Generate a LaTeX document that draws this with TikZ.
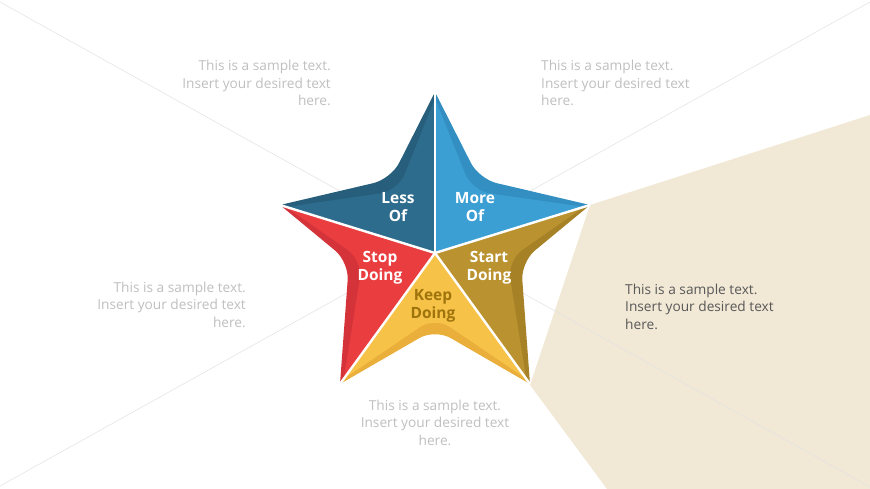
\documentclass[tikz,border=0pt]{standalone}
\usepackage{fontspec}
\setmainfont{Open Sans}
\definecolor{beam}{HTML}{F1E8D6}
\definecolor{guideline}{HTML}{E4E4E4}
\definecolor{greytext}{HTML}{BFBFBF}
\definecolor{darktext}{HTML}{595959}
\definecolor{lessface}{HTML}{2D6C8C}
\definecolor{lessband}{HTML}{265E7C}
\definecolor{moreface}{HTML}{3C9FD3}
\definecolor{moreband}{HTML}{338FC2}
\definecolor{startface}{HTML}{BA922F}
\definecolor{startband}{HTML}{A68126}
\definecolor{keepface}{HTML}{F6C247}
\definecolor{keepband}{HTML}{EAAF3A}
\definecolor{keeptext}{HTML}{A0740D}
\definecolor{stopface}{HTML}{EA3D40}
\definecolor{stopband}{HTML}{D43439}
\usetikzlibrary{positioning}
% star outline around (0,0): #1 scales the tips, #2 the inner corners
\newcommand\starpath[2]{%
  (0,{-161*#1}) [rounded corners=18] -- ({44*#2},{-74*#2}) [rounded corners=3]
  -- ({155*#1},{-48*#1}) [rounded corners=18] -- ({86*#2},{9*#2}) [rounded corners=3]
  -- ({95*#1},{131*#1}) [rounded corners=18] -- (0,{76*#2}) [rounded corners=3]
  -- ({-95*#1},{131*#1}) [rounded corners=18] -- ({-86*#2},{9*#2}) [rounded corners=3]
  -- ({-155*#1},{-48*#1}) [rounded corners=18] -- ({-44*#2},{-74*#2}) [rounded corners=3]
  -- cycle}
\tikzset{
  guide/.style={draw=guideline, line width=0.6pt},
  sep/.style={draw=white, line width=2.4pt},
  lbl/.style={font=\bfseries\fontsize{15.5}{18}\selectfont, align=center, text=white, inner sep=0pt},
  sample/.style={font=\fontsize{13.7}{17.5}\selectfont, text=greytext, inner sep=0pt},
}
\begin{document}
\begin{tikzpicture}[x=1pt, y=-1pt]
  \useasboundingbox (0,0) rectangle (870,489);
  % beige beam
  \fill[beam] (590,205) -- (870,115) -- (870,489) -- (607,489) -- (530,385) -- cycle;
  % faint lines from the corners
  \coordinate (hub) at (435,244);
  \foreach \cx/\cy [count=\i] in {0/2, 0/486, 870/2, 870/487} {
    \coordinate (corner\i) at (\cx,\cy);
    \draw[guide] (corner\i) -- (hub);
  }
  % the star: bands, then faces
  \begin{scope}[shift={(435,253)}]
    \coordinate (ctr) at (0,0);
    \begin{scope}
      \clip \starpath{1}{1};
      \foreach \col/\a/\b in {lessband/197.2/270, moreband/270/342.8,
          startband/342.8/414, keepband/54/126, stopband/126/197.2}
        \fill[\col] (ctr) -- (\a:450) -- (\b:450) -- cycle;
    \end{scope}
    \begin{scope}
      \clip \starpath{0.96}{0.84};
      \foreach \col/\a/\b in {lessface/197.2/270, moreface/270/342.8,
          startface/342.8/414, keepface/54/126, stopface/126/197.2}
        \fill[\col] (ctr) -- (\a:450) -- (\b:450) -- cycle;
    \end{scope}
    % white splits to the tips
    \foreach \x/\y [count=\i] in {0/-161, 155/-48, 95/131, -95/131, -155/-48} {
      \coordinate (tip\i) at (\x,\y);
      \draw[sep] (ctr) -- (tip\i);
    }
  \end{scope}
  % labels
  \node[lbl] (lessof) at (398,207) {Less\\Of};
  \node[lbl] (moreof) at (475,207) {More\\Of};
  \node[lbl] (stopdo) at (380,268) {Stop\\Doing};
  \node[lbl] (startdo) at (489,268) {Start\\Doing};
  \node[lbl, text=keeptext] (keepdo) at (433,306) {Keep\\Doing};
  % sample texts
  \node[sample, anchor=north east, align=right] (txtTL) at (331,60) {This is a sample text.\\Insert your desired text\\here.};
  \node[sample, anchor=north west, align=left] (txtTR) at (541,60) {This is a sample text.\\Insert your desired text\\here.};
  \node[sample, anchor=north east, align=right] (txtL) at (246,281.5) {This is a sample text.\\Insert your desired text\\here.};
  \node[sample, anchor=north west, align=left, text=darktext] (txtR) at (625,283.5) {This is a sample text.\\Insert your desired text\\here.};
  \node[sample, anchor=north, align=center] (txtB) at (435,399.5) {This is a sample text.\\Insert your desired text\\here.};
\end{tikzpicture}
\end{document}
